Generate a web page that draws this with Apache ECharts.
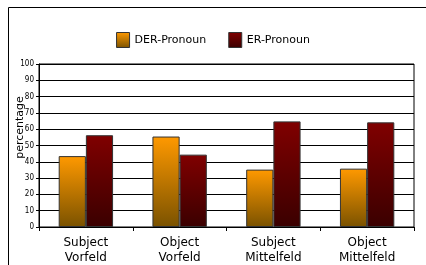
<!DOCTYPE html>
<html>
<head>
<meta charset="utf-8">
<script src="https://cdn.jsdelivr.net/npm/echarts@6/dist/echarts.min.js"></script>
<style>
    html, body { margin: 0; padding: 0; background: #fff; }
    #chart { width: 426px; height: 265px; }
</style>
</head>
<body>
<div id="chart"></div>
<script>
    // categories and values
    var categories = ['Subject\nVorfeld', 'Object\nVorfeld', 'Subject\nMittelfeld', 'Object\nMittelfeld'];
    var derValues = [43.5, 55.5, 35.2, 35.8];
    var erValues = [56.3, 44.4, 64.8, 64.2];
    var yTicks = [0, 10, 20, 30, 40, 50, 60, 70, 80, 90, 100];

    var myChart = echarts.init(document.getElementById('chart'));

    function grad(top, bottom) {
        return new echarts.graphic.LinearGradient(0, 0, 0, 1, [
            { offset: 0, color: top },
            { offset: 1, color: bottom }
        ]);
    }

    myChart.setOption({
        animation: false,
        textStyle: { fontFamily: 'DejaVu Sans' },
        graphic: [{
            type: 'rect',
            shape: { x: 8.5, y: 7.5, width: 440, height: 280 },
            style: { fill: 'none', stroke: '#000', lineWidth: 1 },
            silent: true
        }],
        legend: {
            top: 27,
            left: 'center',
            icon: 'rect',
            itemWidth: 13,
            itemHeight: 15,
            itemGap: 22,
            textStyle: { fontSize: 11, color: '#000', fontFamily: 'DejaVu Sans' },
            data: [
                { name: 'DER-Pronoun', itemStyle: { color: grad('#ff9900', '#7a5200'), borderColor: '#333', borderWidth: 1 } },
                { name: 'ER-Pronoun', itemStyle: { color: grad('#800000', '#3a0000'), borderColor: '#333', borderWidth: 1 } }
            ]
        },
        grid: {
            left: 39,
            right: 12,
            top: 64,
            bottom: 38,
            show: true,
            borderColor: '#000',
            borderWidth: 1,
            containLabel: false,
            outerBoundsMode: 'none'
        },
        xAxis: {
            type: 'category',
            data: categories,
            axisLine: { lineStyle: { color: '#000' } },
            axisTick: { show: true, length: 4, inside: false, lineStyle: { color: '#000' } },
            axisLabel: { color: '#000', fontSize: 12, lineHeight: 15, margin: 8, fontFamily: 'DejaVu Sans' }
        },
        yAxis: {
            type: 'value',
            min: 0,
            max: 100,
            interval: 10,
            name: 'percentage',
            nameLocation: 'middle',
            nameGap: 13,
            nameMoveOverlap: false,
            nameRotate: 90,
            nameTextStyle: { fontSize: 11, color: '#000', fontFamily: 'DejaVu Sans', padding: [0, 0, 0, 36] },
            axisLine: { show: true, lineStyle: { color: '#000' } },
            axisTick: { show: true, length: 3, lineStyle: { color: '#000' } },
            axisLabel: {
                color: '#000', fontSize: 8, margin: 5, fontFamily: 'Liberation Sans Narrow, DejaVu Sans Condensed',
                formatter: function (v) { return yTicks.indexOf(v) >= 0 ? String(v) : ''; }
            },
            splitLine: { show: true, lineStyle: { color: '#000', width: 1 } }
        },
        series: [{
            name: 'DER-Pronoun',
            type: 'bar',
            data: derValues,
            barGap: '0%',
            barCategoryGap: '42%',
            itemStyle: { color: grad('#ff9900', '#7a5200'), borderColor: '#333', borderWidth: 1 }
        }, {
            name: 'ER-Pronoun',
            type: 'bar',
            data: erValues,
            itemStyle: { color: grad('#800000', '#3a0000'), borderColor: '#333', borderWidth: 1 }
        }]
    });
</script>
</body>
</html>
